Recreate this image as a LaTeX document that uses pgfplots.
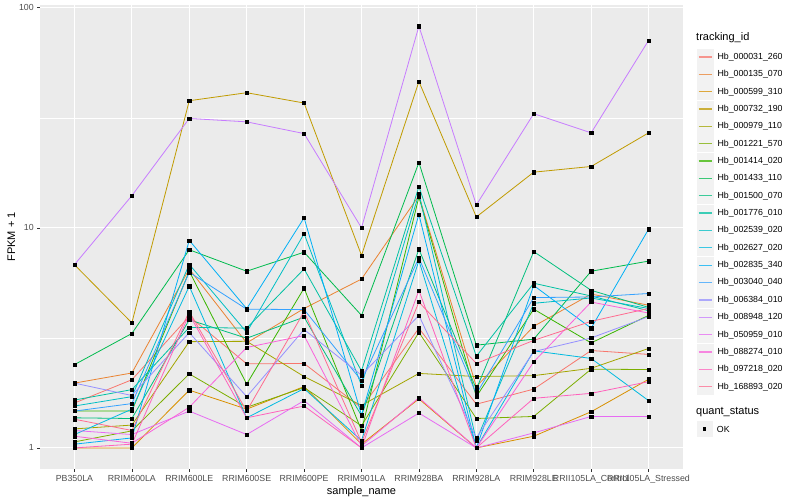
\documentclass[border=0pt]{standalone}
\usepackage{pgfplots}
\pgfplotsset{compat=1.18}
\usepackage{pgfplotstable}
\usepackage{fontspec}
\setmainfont{Liberation Sans}

% ggplot hue palette, 20 levels
\definecolor{c1}{HTML}{F8766D}
\definecolor{c2}{HTML}{EA8331}
\definecolor{c3}{HTML}{D89000}
\definecolor{c4}{HTML}{C09B00}
\definecolor{c5}{HTML}{A3A500}
\definecolor{c6}{HTML}{7CAE00}
\definecolor{c7}{HTML}{39B600}
\definecolor{c8}{HTML}{00BB4E}
\definecolor{c9}{HTML}{00BF7D}
\definecolor{c10}{HTML}{00C1A3}
\definecolor{c11}{HTML}{00BFC4}
\definecolor{c12}{HTML}{00BAE0}
\definecolor{c13}{HTML}{00B0F6}
\definecolor{c14}{HTML}{35A2FF}
\definecolor{c15}{HTML}{9590FF}
\definecolor{c16}{HTML}{C77CFF}
\definecolor{c17}{HTML}{E76BF3}
\definecolor{c18}{HTML}{FA62DB}
\definecolor{c19}{HTML}{FF62BC}
\definecolor{c20}{HTML}{FF6C90}
\definecolor{panel}{HTML}{EBEBEB}
\definecolor{tickc}{HTML}{4D4D4D}
\definecolor{tickm}{HTML}{333333}

% FPKM + 1, one column per tracking_id, rows = samples 0..10
\pgfplotstableread{
x  s1   s2   s3   s4   s5   s6    s7   s8   s9   s10  s11  s12  s13  s14  s15  s16  s17  s18  s19  s20
0  1.60 1.97 1.00 6.8  1.22 1.065 1.47 2.39 1.37 1.65 1.55 1.15 1.04 1.47 1.97 6.8  1.20 1.13 1.00 1.35
1  2.04 2.19 1.00 3.7  1.27 1.195 1.47 3.31 1.36 1.84 1.71 1.50 1.11 1.59 1.73 14.0 1.15 1.05 1.04 1.20
2  3.96 6.50 1.83 37.8 3.04 2.17  6.35 7.95 3.82 3.53 6.82 5.43 8.77 6.28 3.34 31.4 1.47 1.53 4.05 4.16
3  2.41 3.00 1.50 41.1 3.05 1.53  1.95 6.35 3.15 3.50 3.35 1.37 4.29 4.27 1.71 30.3 1.15 2.86 1.37 1.47
4  2.42 4.30 1.90 36.9 2.11 1.88  5.32 7.75 3.93 6.50 9.40 1.86 11.1 4.25 3.45 26.8 1.64 3.24 1.55 4.16
5  1.52 5.85 1.04 7.5  1.56 1.26  1.20 4.00 1.40 2.24 1.92 1.08 1.41 2.02 2.14 10.0 1.00 1.02 1.00 1.06
6  3.50 14.0 1.67 46.2 2.18 3.35  13.8 19.8 8.00 15.4 14.3 7.10 11.5 7.30 4.00 82.5 1.44 1.69 5.20 4.60
7  1.58 1.90 1.00 11.2 2.11 1.36  1.71 2.93 1.85 2.61 1.08 1.00 1.00 1.76 1.11 12.7 1.00 1.00 1.00 2.42
8  1.85 3.57 1.13 17.9 2.13 1.39  4.27 3.12 7.80 5.60 4.54 2.76 5.47 4.82 2.74 33.0 1.17 2.46 1.68 3.08
9  2.77 5.00 1.46 19.0 2.30 2.28  3.00 6.35 5.20 4.90 4.80 2.55 3.50 4.85 3.16 27.0 1.39 4.60 1.77 3.76
10 2.66 4.45 2.05 27.0 2.83 2.27  4.00 7.06 4.35 4.20 4.30 1.64 9.85 5.03 3.95 71.0 1.39 4.10 2.00 4.30
}\fpkm

\begin{document}
\begin{tikzpicture}
\useasboundingbox (0bp,0bp) rectangle (800bp,500bp);
\fill[white] (0bp,0bp) rectangle (800bp,500bp);
\begin{axis}[
    at={(40bp,31bp)}, anchor=south west,
    scale only axis, width=643bp, height=464bp,
    ymode=log, ymin=0.802, ymax=102.9,
    xmin=-0.6, xmax=10.6,
    xtick={0,...,10},
    xticklabels={PB350LA,RRIM600LA,RRIM600LE,RRIM600SE,RRIM600PE,RRIM901LA,RRIM928BA,RRIM928LA,RRIM928LE,RRII105LA\_Control,RRII105LA\_Stressed},
    ytick={1,10,100}, yticklabels={1,10,100},
    minor ytick={3.1623,31.623},
    grid=both,
    major grid style={white, line width=1.07bp},
    minor grid style={white, line width=0.53bp},
    axis background/.style={fill=panel},
    axis line style={draw=none},
    tick align=outside, tick pos=left,
    major tick length=2.75bp, minor tick length=0pt,
    tick style={tickm, line width=0.53bp},
    ticklabel style={font=\fontsize{8.8bp}{10bp}\selectfont, text=tickc},
    /pgf/number format/assume math mode=true,
    xlabel={sample\_name}, ylabel={FPKM + 1},
    xlabel shift=-4bp, ylabel shift=-3bp,
    label style={font=\fontsize{11bp}{13bp}\selectfont},
    legend style={at={(1.0213,0.9061)}, anchor=north west, draw=none, fill=none,
        inner sep=0pt, outer sep=0pt, row sep=0.55bp,
        font=\fontsize{8.8bp}{10bp}\selectfont,
        nodes={inner sep=0pt, anchor=west},
        /tikz/every odd column/.append style={column sep=4bp}},
    legend cell align=left,
    legend image code/.code={
        \fill[black!5] (0bp,-8bp) rectangle (16bp,8bp);
        \draw[#1, line width=1.3bp, opacity=0.75] (1.6bp,0bp) -- (14.4bp,0bp);},
    legend entries={Hb\_000031\_260,Hb\_000135\_070,Hb\_000599\_310,Hb\_000732\_190,Hb\_000979\_110,Hb\_001221\_570,Hb\_001414\_020,Hb\_001433\_110,Hb\_001500\_070,Hb\_001776\_010,Hb\_002539\_020,Hb\_002627\_020,Hb\_002835\_340,Hb\_003040\_040,Hb\_006384\_010,Hb\_008948\_120,Hb\_050959\_010,Hb\_088274\_010,Hb\_097218\_020,Hb\_168893\_020},
]
\pgfplotsinvokeforeach{1,...,20}{
    \addplot[color=c#1, line width=0.8bp, mark=none] table[x=x, y=s#1] {\fpkm};
}
\pgfplotsinvokeforeach{1,...,20}{
    \addplot[only marks, mark=square*, mark size=1.6bp, black, forget plot] table[x=x, y=s#1] {\fpkm};
}
\end{axis}
% legend titles and the quant_status key
\node[anchor=west, inner sep=0pt, font=\fontsize{11bp}{13bp}\selectfont] at (696bp,462bp) {tracking\_id};
\node[anchor=west, inner sep=0pt, font=\fontsize{11bp}{13bp}\selectfont] at (696bp,88bp) {quant\_status};
\fill[black!5] (696.7bp,63bp) rectangle (712.7bp,79bp);
\fill[black] (703.2bp,69.4bp) rectangle (706.4bp,72.6bp);
\node[anchor=west, inner sep=0pt, font=\fontsize{8.8bp}{10bp}\selectfont] at (716.7bp,71bp) {OK};
\end{tikzpicture}
\end{document}
